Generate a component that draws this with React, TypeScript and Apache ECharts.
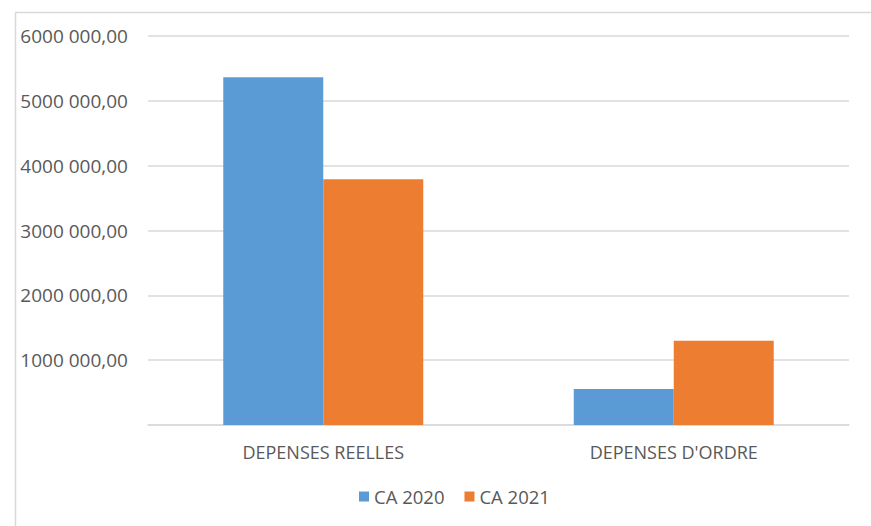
import React, { useEffect, useRef } from "react";
import * as echarts from "echarts";

const categories = ["DEPENSES REELLES", "DEPENSES D'ORDRE"];
const seriesNames = ["CA 2020", "CA 2021"];
const ca2020 = [5365000, 555000];
const ca2021 = [3790000, 1300000];
const yTicks = [0, 1000000, 2000000, 3000000, 4000000, 5000000, 6000000];

const FONT = "'Open Sans', sans-serif";

function fmt(v: number): string {
  if (v === 0) return "";
  const m = Math.floor(v / 1000000);
  const rest = Math.round((v % 1000000) / 1000);
  return `${m}000 ${String(rest).padStart(3, "0")},00`;
}

export default function App() {
  const ref = useRef<HTMLDivElement>(null);
  useEffect(() => {
    if (!ref.current) return;
    const chart = echarts.init(ref.current, undefined, { renderer: "svg" });
    chart.setOption({
      animation: false,
      backgroundColor: "#ffffff",
      textStyle: { fontFamily: FONT },
      graphic: [
        {
          type: "rect",
          left: 13,
          top: 10,
          shape: { width: 900, height: 600 },
          style: { fill: "none", stroke: "#d9d9d9", lineWidth: 1.5 },
          silent: true,
        },
      ],
      grid: { left: 148, right: 22, top: 36, bottom: 101, containLabel: false },
      legend: {
        data: seriesNames,
        bottom: 15,
        left: 354,
        icon: "rect",
        itemWidth: 10,
        itemHeight: 10,
        itemGap: 20,
        textStyle: { fontFamily: FONT, fontSize: 18.5, color: "#595959" },
      },
      xAxis: {
        type: "category",
        data: categories,
        axisLine: { show: true, lineStyle: { color: "#d9d9d9", width: 1.5 } },
        axisTick: { show: false },
        axisLabel: { fontFamily: FONT, fontSize: 18, color: "#595959", margin: 18 },
      },
      yAxis: {
        type: "value",
        min: yTicks[0],
        max: yTicks[yTicks.length - 1],
        interval: 1000000,
        axisLine: { show: false },
        axisTick: { show: false },
        splitLine: { lineStyle: { color: "#d9d9d9", width: 1.5 } },
        axisLabel: {
          formatter: (v: number) => fmt(v),
          fontFamily: FONT,
          fontSize: 19,
          color: "#595959",
          margin: 20,
        },
      },
      series: [
        {
          name: seriesNames[0],
          type: "bar",
          data: ca2020,
          barWidth: 100,
          barGap: "0%",
          itemStyle: { color: "#5B9BD5" },
        },
        {
          name: seriesNames[1],
          type: "bar",
          data: ca2021,
          barWidth: 100,
          barGap: "0%",
          itemStyle: { color: "#ED7D31" },
        },
      ],
    });
    return () => chart.dispose();
  }, []);
  return (
    <div
      ref={ref}
      style={{ position: "absolute", left: 0, top: 0, width: 871, height: 526 }}
    />
  );
}
